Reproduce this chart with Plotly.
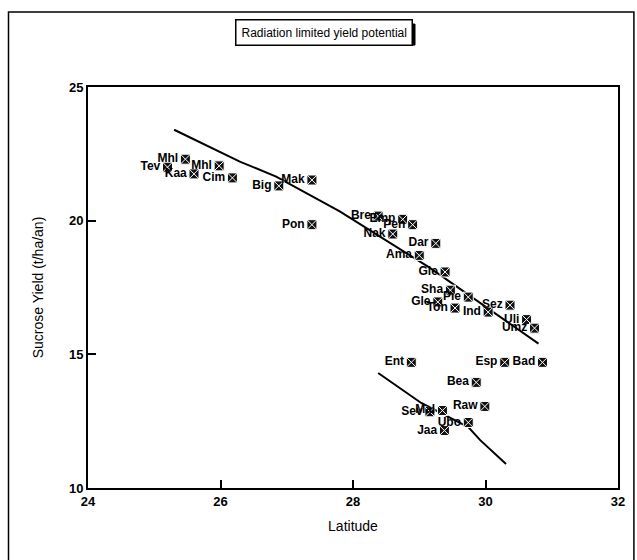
import plotly.graph_objects as go

# Site observations: latitude (deg) and sucrose yield (t/ha/an)
sites = ["Tev", "Mhl", "Kaa", "Mhl", "Cim", "Big", "Mak", "Pon",
         "Bre", "Emp", "Pen", "Nak", "Dar", "Ama", "Gle", "Sha", "Gle", "Ton",
         "Pie", "Sez", "Ind", "Uli", "Umz",
         "Ent", "Esp", "Bad", "Bea", "Raw", "Sev", "Mal", "Jaa", "Ubo"]
latitude = [25.2, 25.47, 25.6, 25.98, 26.18, 26.88, 27.38, 27.38,
            28.38, 28.75, 28.9, 28.6, 29.25, 29.0, 29.39, 29.47, 29.28, 29.54,
            29.74, 30.37, 30.04, 30.62, 30.74,
            28.88, 30.29, 30.86, 29.86, 29.99, 29.16, 29.35, 29.38, 29.74]
sucrose = [22.0, 22.3, 21.75, 22.05, 21.6, 21.3, 21.52, 19.85,
           20.17, 20.05, 19.85, 19.5, 19.15, 18.7, 18.08, 17.4, 16.96, 16.73,
           17.14, 16.84, 16.58, 16.3, 15.98,
           14.7, 14.7, 14.7, 13.95, 13.05, 12.85, 12.9, 12.15, 12.45]

# Fitted yield-potential curves
upper_lat = [25.3, 26.3, 26.84, 27.8, 29.15, 30.8]
upper_yield = [23.4, 22.2, 21.65, 20.35, 18.25, 15.4]
lower_lat = [28.38, 29.03, 29.74, 29.92, 30.31]
lower_yield = [14.3, 13.18, 12.28, 11.79, 10.9]

x_ticks = [24, 26, 28, 30, 32]
y_ticks = [10, 15, 20, 25]

FONT = "Liberation Sans, Arial, sans-serif"

fig = go.Figure()

fig.add_trace(go.Scatter(x=upper_lat, y=upper_yield, mode="lines",
                         line=dict(color="black", width=2), hoverinfo="skip"))
fig.add_trace(go.Scatter(x=lower_lat, y=lower_yield, mode="lines",
                         line=dict(color="black", width=2), hoverinfo="skip"))

fig.add_trace(go.Scatter(
    x=latitude, y=sucrose, mode="markers+text", text=sites,
    textposition="middle left",
    textfont=dict(family=FONT, size=12, color="black", weight="bold"),
    marker=dict(symbol="square-x", size=10, color="#111111",
                line=dict(color="white", width=1)),
))

fig.update_xaxes(range=[24, 32], tickvals=x_ticks, ticks="inside", ticklen=8,
                 tickwidth=1.5, tickcolor="black", showline=True, linewidth=2,
                 linecolor="black", mirror=True, showgrid=False, zeroline=False,
                 tickfont=dict(family=FONT, size=13, color="black", weight="bold"),
                 title=dict(text="Latitude", font=dict(family=FONT, size=14, color="black"),
                            standoff=14))
fig.update_yaxes(range=[10, 25], tickvals=y_ticks, ticks="inside", ticklen=8,
                 tickwidth=1.5, tickcolor="black", showline=True, linewidth=2,
                 linecolor="black", mirror=True, showgrid=False, zeroline=False,
                 tickfont=dict(family=FONT, size=13, color="black", weight="bold"),
                 title=dict(text="Sucrose Yield (t/ha/an)",
                            font=dict(family=FONT, size=14, color="black"), standoff=22))

# Outer frame around the whole figure
fig.add_shape(type="rect", xref="paper", yref="paper",
              x0=-0.150, x1=1.03, y0=-0.25, y1=1.187,
              line=dict(color="black", width=1.5), fillcolor="rgba(0,0,0,0)")

# Boxed caption with a slight drop shadow
fig.add_shape(type="rect", xref="paper", yref="paper",
              x0=0.287, x1=0.617, y0=1.1045, y1=1.157,
              line=dict(color="black", width=1), fillcolor="black")
fig.add_annotation(text="Radiation limited yield potential", xref="paper", yref="paper",
                   x=0.445, y=1.137, xanchor="center", yanchor="middle", showarrow=False,
                   font=dict(family=FONT, size=12, color="black"),
                   bordercolor="black", borderwidth=1.5, borderpad=5, bgcolor="white")

fig.update_layout(width=637, height=560, showlegend=False,
                  margin=dict(l=88, r=16, t=87, b=72),
                  paper_bgcolor="white", plot_bgcolor="white")

fig.write_html("out.html")
